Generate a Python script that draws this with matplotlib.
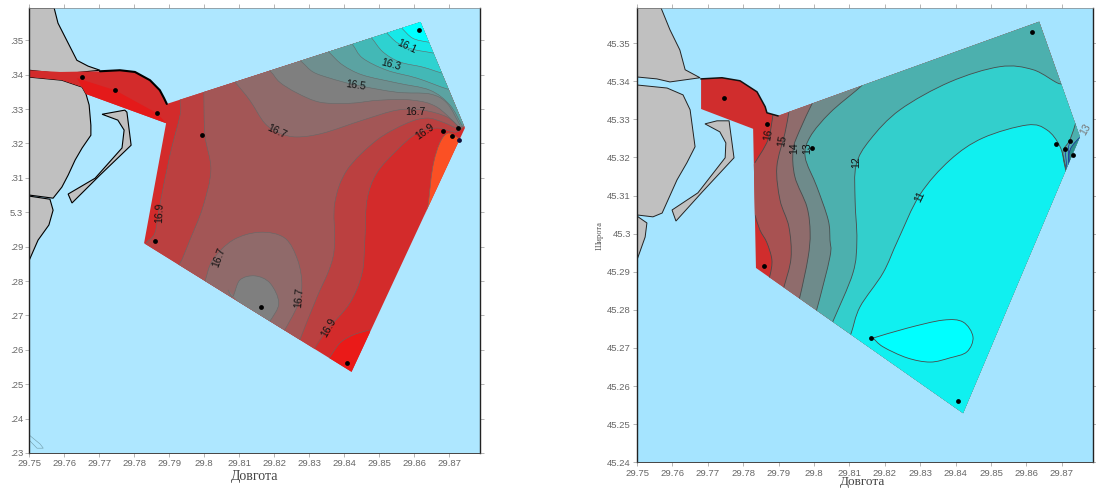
"""
Two contour maps (temperature and salinity style) near the Danube mouth,
bands are drawn back to front and clipped to the survey area.
"""

import matplotlib
matplotlib.use("Agg")
import matplotlib.pyplot as plt
import numpy as np
from matplotlib.patches import PathPatch, Polygon
from matplotlib.path import Path

plt.rcParams['font.family'] = ['Liberation Sans', 'DejaVu Sans']

# ---------------------------- left map data ----------------------------
land_top_l = [(29.75, 45.3594), (29.7571, 45.3594), (29.7582, 45.3550), (29.7611, 45.3492), (29.7636, 45.3442),
              (29.7668, 45.3425), (29.7702, 45.3413), (29.7596, 45.3402), (29.7545, 45.3408), (29.75, 45.3413)]
land_mid_l = [(29.75, 45.3393), (29.7593, 45.3384), (29.7651, 45.3364), (29.7662, 45.3344), (29.7671, 45.3312),
              (29.7676, 45.3253), (29.7676, 45.3224), (29.7651, 45.3187), (29.7631, 45.3152), (29.7611, 45.3108),
              (29.7593, 45.3073), (29.7568, 45.3041), (29.75, 45.3050)]
land_low_l = [(29.75, 45.3047), (29.7559, 45.3038), (29.7568, 45.3006), (29.7556, 45.2963), (29.7525, 45.2919),
              (29.75, 45.2861)]
pier_l = [(29.7708, 45.3285), (29.7773, 45.3297), (29.7779, 45.3291), (29.7791, 45.3195), (29.7702, 45.3108),
          (29.7622, 45.3027), (29.7611, 45.3053), (29.7688, 45.3099), (29.7765, 45.3187), (29.7771, 45.3239),
          (29.7753, 45.3268)]
islet_l = [(29.75, 45.2352), (29.7531, 45.2326), (29.754, 45.2314), (29.7522, 45.2314), (29.75, 45.2337)]
shore_l = [(29.7702, 45.3410), (29.7759, 45.3413), (29.7802, 45.3408), (29.7845, 45.3384), (29.7873, 45.3355),
           (29.7885, 45.3332), (29.7893, 45.3315)]
domain_l = [(29.75, 45.3413), (29.7588, 45.3408), (29.7702, 45.3410), (29.7759, 45.3413), (29.7802, 45.3408),
            (29.7845, 45.3384), (29.7873, 45.3355), (29.7885, 45.3332), (29.7893, 45.3315), (29.8618, 45.3553),
            (29.8745, 45.3245), (29.8421, 45.2536), (29.7828, 45.2910), (29.7891, 45.3259), (29.7662, 45.3344),
            (29.7651, 45.3364), (29.7593, 45.3384), (29.75, 45.3393)]
strip_l = [(29.7636, 45.3390), (29.7745, 45.3355), (29.7865, 45.3288), (29.7891, 45.3259), (29.7662, 45.3344),
           (29.7651, 45.3364)]

c1_l = [(29.7931, 45.3341), (29.7931, 45.3320), (29.7931, 45.3283), (29.7902, 45.3166), (29.7873, 45.3021),
        (29.7859, 45.2940), (29.7833, 45.2910)]
c2_l = [(29.7999, 45.3370), (29.7999, 45.3344), (29.8002, 45.3224), (29.8019, 45.3123), (29.7996, 45.3015),
        (29.7959, 45.2919), (29.7931, 45.2852), (29.7908, 45.2826)]
c3_l = [(29.8068, 45.3399), (29.8090, 45.3376), (29.8130, 45.3326), (29.8173, 45.3259), (29.8216, 45.3230),
        (29.8265, 45.3219), (29.8339, 45.3230), (29.8453, 45.3268), (29.8551, 45.3297), (29.8625, 45.3297),
        (29.8694, 45.3277), (29.8731, 45.3245)]
c5_l = [(29.8273, 45.2628), (29.8322, 45.2753), (29.8353, 45.2823), (29.8368, 45.2870), (29.8373, 45.2919),
        (29.8373, 45.3027), (29.8408, 45.3123), (29.8493, 45.3210), (29.8579, 45.3259), (29.8636, 45.3274),
        (29.8682, 45.3262), (29.8722, 45.3245), (29.8739, 45.3251)]
c6_l = [(29.8316, 45.2605), (29.8351, 45.2658), (29.8416, 45.2736), (29.8451, 45.2823), (29.8459, 45.2919),
        (29.8465, 45.3035), (29.8493, 45.3114), (29.8551, 45.3181), (29.8608, 45.3230), (29.8665, 45.3245),
        (29.8716, 45.3233), (29.8739, 45.3245)]
orange_l = [(29.8631, 45.2992), (29.8639, 45.3015), (29.8653, 45.3131), (29.8673, 45.3201), (29.8696, 45.3230),
            (29.8722, 45.3219), (29.8736, 45.3210)]
tip_l = [(29.8348, 45.2565), (29.8359, 45.2579), (29.8388, 45.2620), (29.8425, 45.2643), (29.8473, 45.2658)]
blob1_l = [(29.7988, 45.2774), (29.8002, 45.2800), (29.8024, 45.2861), (29.8082, 45.2919), (29.8159, 45.2942),
           (29.8230, 45.2925), (29.8267, 45.2861), (29.8279, 45.2788), (29.8267, 45.2730), (29.8230, 45.2658),
           (29.8210, 45.2628)]
blob2_l = [(29.8068, 45.2774), (29.8082, 45.2756), (29.8102, 45.2803), (29.8145, 45.2815), (29.8188, 45.2794),
           (29.8213, 45.2736), (29.8188, 45.2684), (29.8165, 45.2658)]
a_l = [(29.8165, 45.3428), (29.8191, 45.3408), (29.8216, 45.3378), (29.8265, 45.3347), (29.8331, 45.3320),
       (29.8416, 45.3317), (29.8502, 45.3326), (29.8596, 45.3326), (29.8665, 45.3306), (29.8731, 45.3245)]
b_l = [(29.8253, 45.3457), (29.8279, 45.3437), (29.8311, 45.3408), (29.8359, 45.3390), (29.8433, 45.3370),
       (29.8551, 45.3349), (29.8645, 45.3344), (29.8694, 45.3317), (29.8731, 45.3253)]
c_l = [(29.8336, 45.3486), (29.8359, 45.3463), (29.8396, 45.3428), (29.8453, 45.3399), (29.8551, 45.3376),
       (29.8645, 45.3355), (29.8702, 45.3312), (29.8736, 45.3253)]
d_l = [(29.8405, 45.3506), (29.8425, 45.3486), (29.8453, 45.3448), (29.8522, 45.3413), (29.8608, 45.3390),
       (29.8696, 45.3358), (29.8745, 45.3349)]
e_l = [(29.8462, 45.3521), (29.8479, 45.3506), (29.8511, 45.3466), (29.8559, 45.3437), (29.8625, 45.3422),
       (29.8679, 45.3405), (29.8725, 45.3396)]
f_l = [(29.8508, 45.3538), (29.8522, 45.3521), (29.8553, 45.3492), (29.8596, 45.3474), (29.8654, 45.3463),
       (29.8702, 45.3451)]
g_l = [(29.8548, 45.3553), (29.8565, 45.3535), (29.8596, 45.3506), (29.8639, 45.3495), (29.8673, 45.3492)]

station_lon_l = [29.7650, 29.7745, 29.7866, 29.7994, 29.7859, 29.8161, 29.8407, 29.8614, 29.8681, 29.8708, 29.8724]
station_lat_l = [45.3392, 45.3356, 45.3288, 45.3224, 45.2916, 45.2725, 45.2561, 45.3530, 45.3236, 45.3222, 45.3246]

labels_l = ["16.1", "16.3", "16.5", "16.7", "16.7", "16.9", "16.9", "16.7", "16.7", "16.9"]
label_lon_l = [29.8579, 29.8533, 29.8433, 29.8602, 29.8208, 29.8631, 29.7871, 29.8042, 29.8271, 29.8356]
label_lat_l = [45.3483, 45.3428, 45.3370, 45.3291, 45.3236, 45.3233, 45.2998, 45.2870, 45.2751, 45.2663]
label_rot_l = [-25, -15, -8, 0, -25, 35, 88, 70, 85, 60]

yticks_l = [45.23, 45.24, 45.25, 45.26, 45.27, 45.28, 45.29, 45.30, 45.31, 45.32, 45.33, 45.34, 45.35]
yticklabels_l = [".23", ".24", ".25", ".26", ".27", ".28", ".29", "5.3", ".31", ".32", ".33", ".34", ".35"]

# ---------------------------- right map data ---------------------------
land_top_r = [(29.75, 45.3592), (29.7568, 45.3592), (29.7593, 45.3535), (29.7621, 45.3482), (29.7636, 45.3430),
              (29.7678, 45.3409), (29.7593, 45.3398), (29.7556, 45.3406), (29.75, 45.3411)]
land_mid_r = [(29.75, 45.3390), (29.7585, 45.3382), (29.7630, 45.3364), (29.7650, 45.3325), (29.7664, 45.3228),
              (29.7641, 45.3186), (29.7613, 45.3141), (29.7571, 45.3054), (29.7545, 45.3044), (29.75, 45.3049)]
land_low_r = [(29.75, 45.3046), (29.7528, 45.3028), (29.7523, 45.2991), (29.75, 45.2931)]
pier_r = [(29.7692, 45.3288), (29.7726, 45.3296), (29.7760, 45.3296), (29.7774, 45.3199), (29.7684, 45.3109),
          (29.7610, 45.3033), (29.7599, 45.3062), (29.7672, 45.3107), (29.7749, 45.3199), (29.7751, 45.3238),
          (29.7734, 45.3267)]
shore_r = [(29.7681, 45.3406), (29.7740, 45.3409), (29.7791, 45.3401), (29.7839, 45.3372), (29.7862, 45.3333),
           (29.7867, 45.3317), (29.7898, 45.3309)]
domain_r = [(29.7681, 45.3406), (29.7740, 45.3409), (29.7791, 45.3401), (29.7839, 45.3372), (29.7862, 45.3333),
            (29.7867, 45.3317), (29.7898, 45.3309), (29.8636, 45.3556), (29.8751, 45.3254), (29.8421, 45.2529),
            (29.7836, 45.2910), (29.7828, 45.3275), (29.7681, 45.3327)]

r1a = [(29.7884, 45.3325), (29.7884, 45.3312), (29.7870, 45.3246), (29.7833, 45.3186), (29.7805, 45.3154)]
r1b = [(29.7805, 45.3075), (29.7833, 45.3049), (29.7847, 45.3010), (29.7867, 45.2976), (29.7881, 45.2931),
       (29.7876, 45.2892), (29.7867, 45.2871)]
r2 = [(29.7932, 45.3335), (29.7929, 45.3319), (29.7918, 45.3264), (29.7895, 45.3175), (29.7904, 45.3088),
      (29.7929, 45.3018), (29.7935, 45.2936), (29.7915, 45.2860), (29.7907, 45.2836)]
r3 = [(29.8003, 45.3356), (29.7994, 45.3340), (29.7960, 45.3272), (29.7941, 45.3220), (29.7946, 45.3149),
      (29.7980, 45.3070), (29.7989, 45.3002), (29.7983, 45.2936), (29.7960, 45.2834), (29.7949, 45.2805)]
r4 = [(29.8136, 45.3390), (29.8121, 45.3377), (29.8045, 45.3317), (29.7989, 45.3254), (29.7975, 45.3201),
      (29.8008, 45.3123), (29.8040, 45.3036), (29.8045, 45.2983), (29.8045, 45.2939), (29.8008, 45.2802),
      (29.7994, 45.2768)]
r5 = [(29.8712, 45.3417), (29.8695, 45.3393), (29.8619, 45.3430), (29.8525, 45.3438), (29.8384, 45.3398),
      (29.8243, 45.3325), (29.8158, 45.3246), (29.8119, 45.3180), (29.8116, 45.3088), (29.8121, 45.2983),
      (29.8110, 45.2897), (29.8054, 45.2771), (29.8042, 45.2745)]
r6 = [(29.8729, 45.3146), (29.8715, 45.3162), (29.8695, 45.3228), (29.8658, 45.3272), (29.8602, 45.3285),
      (29.8477, 45.3251), (29.8384, 45.3193), (29.8299, 45.3102), (29.8237, 45.2983), (29.8195, 45.2897),
      (29.8130, 45.2808), (29.8105, 45.2739), (29.8090, 45.2708)]
wedge1_r = [(29.8740, 45.3293), (29.8723, 45.3246), (29.8703, 45.3214), (29.8712, 45.3162)]
wedge2_r = [(29.8757, 45.3259), (29.8729, 45.3230), (29.8720, 45.3207), (29.8718, 45.3167)]
blue1_r = [(29.8723, 45.3241), (29.8718, 45.3220), (29.8723, 45.3180)]
blue2_r = [(29.8709, 45.3220), (29.8715, 45.3167)]
teardrop_r = [(29.8167, 45.2726), (29.8263, 45.2752), (29.8364, 45.2773), (29.8421, 45.2768), (29.8449, 45.2729),
              (29.8432, 45.2690), (29.8384, 45.2674), (29.8328, 45.2663), (29.8263, 45.2674), (29.8195, 45.2703),
              (29.8167, 45.2726)]

station_lon_r = [29.7745, 29.7867, 29.7994, 29.8616, 29.8683, 29.8709, 29.8723, 29.8732, 29.8161, 29.7860, 29.8407]
station_lat_r = [45.3355, 45.3288, 45.3225, 45.3529, 45.3235, 45.3222, 45.3243, 45.3207, 45.2726, 45.2915, 45.2560]

labels_r = ["16", "15", "14", "13", "12", "11", "13"]
label_lon_r = [29.7870, 29.7910, 29.7944, 29.7980, 29.8119, 29.8299, 29.8766]
label_lat_r = [45.3259, 45.3243, 45.3225, 45.3225, 45.3188, 45.3096, 45.3273]
label_rot_r = [80, 80, 90, 90, 90, 65, 60]

yticks_r = [45.24, 45.25, 45.26, 45.27, 45.28, 45.29, 45.30, 45.31, 45.32, 45.33, 45.34, 45.35]
yticklabels_r = ["45.24", "45.25", "45.26", "45.27", "45.28", "45.29", "45.3", "45.31", "45.32", "45.33", "45.34",
                 "45.35"]

xticks = [29.75, 29.76, 29.77, 29.78, 29.79, 29.80, 29.81, 29.82, 29.83, 29.84, 29.85, 29.86, 29.87]
xticklabels = ["29.75", "29.76", "29.77", "29.78", "29.79", "29.8", "29.81", "29.82", "29.83", "29.84", "29.85",
               "29.86", "29.87"]

land_col = "#c0c0c0"
serif = ["Liberation Serif", "DejaVu Serif"]


def smooth(points):
    # Catmull-Rom through the read points, written as bezier segments
    p = np.array(points)
    verts = [p[0]]
    codes = [Path.MOVETO]
    for i in range(len(p) - 1):
        p0 = p[max(i - 1, 0)]
        p3 = p[min(i + 2, len(p) - 1)]
        verts += [p[i] + (p[i + 1] - p0) / 6, p[i + 1] - (p3 - p[i]) / 6, p[i + 1]]
        codes += [Path.CURVE4] * 3
    return verts, codes


def fill_band(ax, clip, curve, extra, color):
    verts, codes = smooth(curve)
    for pt in extra:
        verts.append(np.array(pt))
        codes.append(Path.LINETO)
    verts.append(verts[0])
    codes.append(Path.CLOSEPOLY)
    band = PathPatch(Path(verts, codes), fc=color, ec=color, lw=0.2, zorder=3)
    ax.add_patch(band)
    band.set_clip_path(clip)


def draw_line(ax, clip, curve, color="#666666", lw=0.4):
    verts, codes = smooth(curve)
    line = PathPatch(Path(verts, codes), fc="none", ec=color, lw=lw, zorder=4)
    ax.add_patch(line)
    line.set_clip_path(clip)


def setup(ax, xlim, ylim, yticks, yticklabels, sea):
    ax.set_facecolor(sea)
    ax.set_xlim(*xlim)
    ax.set_ylim(*ylim)
    ax.set_xticks(xticks)
    ax.set_xticklabels(xticklabels)
    ax.set_yticks(yticks)
    ax.set_yticklabels(yticklabels)
    ax.tick_params(axis="both", length=3, width=0.5, color="#999999", labelcolor="#666666", labelsize=6.8, pad=1.5,
                   top=True, right=True)
    for side in ["left", "right"]:
        ax.spines[side].set_linewidth(1.0)
        ax.spines[side].set_color("#222222")
    ax.spines["top"].set_linewidth(0.5)
    ax.spines["top"].set_color("#888888")
    ax.spines["bottom"].set_linewidth(0.7)
    ax.spines["bottom"].set_color("#444444")


fig = plt.figure(figsize=(10.96, 4.88), dpi=100)
ax1 = fig.add_axes([29.3 / 1096, 35 / 488, 451 / 1096, 445 / 488])
ax2 = fig.add_axes([637 / 1096, 25.7 / 488, 456 / 1096, 454.3 / 488])

# ---------------------------- left map ---------------------------------
setup(ax1, (29.75, 29.8789), (45.23, 45.3594), yticks_l, yticklabels_l, "#aee7ff")

for land in [land_top_l, land_mid_l, land_low_l, pier_l]:
    ax1.add_patch(Polygon(land, closed=True, fc=land_col, ec="black", lw=0.8, zorder=2))
ax1.add_patch(Polygon(islet_l, closed=True, fc="none", ec="#6f9aa8", lw=0.4, zorder=2))

dom1 = Polygon(domain_l, closed=True, fc="#d32b2b", ec="none", zorder=2.5)
ax1.add_patch(dom1)
strip = Polygon(strip_l, closed=True, fc="#e41a1a", ec="none", zorder=3)
ax1.add_patch(strip)

top_out_l = [(29.8788, 45.3268), (29.8618, 45.37)]
fill_band(ax1, dom1, c1_l + [(29.7833, 45.2861), (29.8316, 45.2556)] + c6_l, top_out_l, "#bb4040")
fill_band(ax1, dom1, c2_l + [(29.8273, 45.2570)] + c5_l, top_out_l, "#a35656")
fill_band(ax1, dom1, c3_l, top_out_l, "#906a6a")
fill_band(ax1, dom1, blob1_l, [], "#906a6a")
fill_band(ax1, dom1, blob2_l, [], "#7f7f7f")
fill_band(ax1, dom1, a_l, top_out_l, "#7f7f7f")
fill_band(ax1, dom1, b_l, top_out_l, "#6e8f8f")
fill_band(ax1, dom1, c_l, top_out_l, "#5ba3a2")
fill_band(ax1, dom1, d_l, top_out_l, "#43b8b6")
fill_band(ax1, dom1, e_l, top_out_l, "#2ed2d0")
fill_band(ax1, dom1, f_l, top_out_l, "#17e8e8")
fill_band(ax1, dom1, g_l, top_out_l, "#00ffff")
fill_band(ax1, dom1, orange_l, [(29.8788, 45.3094), (29.8673, 45.2948)], "#fb5024")
fill_band(ax1, dom1, tip_l, [(29.8473, 45.2469), (29.8359, 45.2469)], "#ea1a18")

for curve in [c1_l, c2_l, c3_l, c5_l, c6_l, orange_l, tip_l, blob1_l, blob2_l, a_l, b_l, c_l, d_l, e_l, f_l, g_l]:
    draw_line(ax1, dom1, curve)

ax1.plot(*zip(*shore_l), color="black", lw=1.5, zorder=5, solid_capstyle="round")
ax1.scatter(station_lon_l, station_lat_l, s=12, color="black", zorder=6, linewidths=0)
ax1.scatter([29.8727], [45.3210], s=12, color="#10103a", zorder=6, linewidths=0)

for i in range(len(labels_l)):
    ax1.text(label_lon_l[i], label_lat_l[i], labels_l[i], fontsize=7.5, rotation=label_rot_l[i], color="#111111",
             ha="center", va="center", zorder=7)

ax1.set_xlabel("Довгота", family=serif, fontsize=10, color="#444444", va="center")
ax1.xaxis.set_label_coords(0.5, -0.0517)

# ---------------------------- right map --------------------------------
setup(ax2, (29.75, 29.8788), (45.24, 45.3592), yticks_r, yticklabels_r, "#a5e4ff")

for land in [land_top_r, land_mid_r, land_low_r, pier_r]:
    ax2.add_patch(Polygon(land, closed=True, fc=land_col, ec="#222222", lw=0.7, zorder=2))

dom2 = Polygon(domain_r, closed=True, fc="#d02d2d", ec="none", zorder=2.5)
ax2.add_patch(dom2)

fill_band(ax2, dom2, r1a + r1b, [(29.7867, 45.23), (29.90, 45.23), (29.90, 45.37), (29.7884, 45.37)], "#a85252")
for curve, col in [(r2, "#8f6c6c"), (r3, "#6e8b8b"), (r4, "#4cb0ae"), (r5, "#33cfcc")]:
    fill_band(ax2, dom2, curve, [(curve[-1][0], 45.23), (29.90, 45.23), (29.90, 45.37), (curve[0][0], 45.37)], col)
fill_band(ax2, dom2, r6, [(29.8090, 45.23), (29.8729, 45.23)], "#10f0f0")
fill_band(ax2, dom2, wedge1_r, [(29.88, 45.3162), (29.88, 45.3293)], "#4cb0ae")
fill_band(ax2, dom2, wedge2_r, [(29.88, 45.3167), (29.88, 45.3259)], "#2c8f8c")
fill_band(ax2, dom2, teardrop_r, [], "#00ffff")

for curve in [r1a[:4], r1b[1:], r2, r3, r4, r5, r6, teardrop_r, wedge1_r]:
    draw_line(ax2, dom2, curve, color="#4a4a4a", lw=0.6)
for curve in [wedge2_r, blue1_r, blue2_r]:
    draw_line(ax2, dom2, curve, color="#1a2aa0", lw=0.5)

ax2.plot(*zip(*shore_r), color="#111111", lw=1.1, zorder=5)
ax2.scatter(station_lon_r, station_lat_r, s=12, color="black", zorder=6, linewidths=0)

for i in range(len(labels_r)):
    col = "#777777" if i == len(labels_r) - 1 else "#111111"
    ax2.text(label_lon_r[i], label_lat_r[i], labels_r[i], fontsize=7.5, rotation=label_rot_r[i], color=col,
             ha="center", va="center", zorder=7, clip_on=False)

ax2.set_xlabel("Довгота", family=serif, fontsize=9.5, color="#444444", va="center")
ax2.xaxis.set_label_coords(0.4956, -0.0434)
ax2.set_ylabel("Широта", family=serif, fontsize=6, color="#555555", labelpad=2)

fig.savefig("out.png", dpi=100)
